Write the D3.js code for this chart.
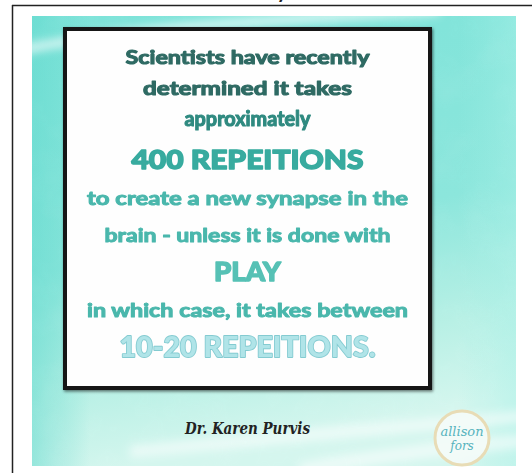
<!DOCTYPE html>
<html lang="en">
<head>
<meta charset="UTF-8">
<title>Repetitions</title>
<script src="https://d3js.org/d3.v7.min.js"></script>
<style>
  html, body { margin: 0; padding: 0; background: #fff; }
</style>
</head>
<body>
<svg width="532" height="473"></svg>
<script>
// ---- content ----
var lines = [
  "Scientists have recently",
  "determined it takes",
  "approximately",
  "400 REPEITIONS",
  "to create a new synapse in the",
  "brain - unless it is done with",
  "PLAY",
  "in which case, it takes between",
  "10-20 REPEITIONS."
];
var lineKinds = ["dark", "dark", "mid", "head", "body", "body", "play", "body", "outline"];
var attribution = "Dr. Karen Purvis";
var badgeWords = ["allison", "fors"];
var topFragment = "y";

// ---- layout ----
var baselines = [64, 95, 126, 169, 205, 242, 281, 317, 357];
var widths = [244, 209, 126, 232, 321, 286, 67, 321, 256];
var kindStyle = {
  dark:    { size: 19, fill: "#2e6a63", stroke: 1.1 },
  mid:     { size: 20.5, fill: "#2f8a80", stroke: 1.1 },
  head:    { size: 27, fill: "#37ab9f", stroke: 1.4 },
  body:    { size: 19, fill: "#4ab7ac", stroke: 1.0 },
  play:    { size: 27, fill: "#56c1b5", stroke: 1.4 },
  outline: { size: 29, fill: "#b0e4e8", stroke: 1.8 }
};

var svg = d3.select("svg");
var defs = svg.append("defs");

var bg = defs.append("linearGradient").attr("id", "bg")
  .attr("x1", 0).attr("y1", 0).attr("x2", 0.2).attr("y2", 1);
bg.append("stop").attr("offset", "0%").attr("stop-color", "#7de3d9");
bg.append("stop").attr("offset", "55%").attr("stop-color", "#8ce6dc");
bg.append("stop").attr("offset", "82%").attr("stop-color", "#b8f0e5");
bg.append("stop").attr("offset", "100%").attr("stop-color", "#d4f6ee");

var side = defs.append("linearGradient").attr("id", "side")
  .attr("x1", 0).attr("y1", 0).attr("x2", 1).attr("y2", 0);
side.append("stop").attr("offset", "0%").attr("stop-color", "#5ed8cc").attr("stop-opacity", 0.5);
side.append("stop").attr("offset", "12%").attr("stop-color", "#5ed8cc").attr("stop-opacity", 0);
side.append("stop").attr("offset", "88%").attr("stop-color", "#a3f0e6").attr("stop-opacity", 0);
side.append("stop").attr("offset", "100%").attr("stop-color", "#a8f1e8").attr("stop-opacity", 0.45);

var blur = defs.append("filter").attr("id", "blur")
  .attr("x", "-20%").attr("y", "-50%").attr("width", "140%").attr("height", "200%");
blur.append("feGaussianBlur").attr("stdDeviation", 5);

var tex = defs.append("filter").attr("id", "tex");
tex.append("feTurbulence").attr("type", "fractalNoise").attr("baseFrequency", 0.03)
  .attr("numOctaves", 3).attr("seed", 4);
tex.append("feColorMatrix").attr("type", "matrix")
  .attr("values", "0 0 0 0 1  0 0 0 0 1  0 0 0 0 1  0 0 0 0.3 -0.12");

var shadow = defs.append("filter").attr("id", "shadow")
  .attr("x", "-5%").attr("y", "-5%").attr("width", "110%").attr("height", "110%");
shadow.append("feDropShadow").attr("dx", 1).attr("dy", 1.5)
  .attr("stdDeviation", 1.5).attr("flood-color", "#000").attr("flood-opacity", 0.55);

var soft = defs.append("filter").attr("id", "soft");
soft.append("feGaussianBlur").attr("stdDeviation", 0.35);

var clip = defs.append("clipPath").attr("id", "imgclip");
clip.append("rect").attr("x", 32).attr("y", 16).attr("width", 484).attr("height", 450);

// outer frame lines
svg.append("line").attr("x1", 12).attr("x2", 532).attr("y1", 5.5).attr("y2", 5.5)
  .attr("stroke", "#222").attr("stroke-width", 1.5);
svg.append("line").attr("x1", 12.5).attr("x2", 12.5).attr("y1", 5).attr("y2", 473)
  .attr("stroke", "#222").attr("stroke-width", 1.5);

// fragment of a title cut off at the top (as in the reference)
svg.append("text").attr("x", 282).attr("y", -2).attr("text-anchor", "middle")
  .attr("font-family", "Lato").attr("font-weight", 700).attr("font-size", 20)
  .attr("fill", "#222").text(topFragment);

// watercolor background
var img = svg.append("g").attr("clip-path", "url(#imgclip)");
img.append("rect").attr("x", 32).attr("y", 16).attr("width", 484).attr("height", 450)
  .attr("fill", "url(#bg)");
img.append("rect").attr("x", 32).attr("y", 16).attr("width", 484).attr("height", 450)
  .attr("fill", "url(#side)");
img.append("path").attr("d", "M20,50 C120,30 230,22 440,10")
  .attr("fill", "none").attr("stroke", "#ffffff").attr("stroke-width", 9)
  .attr("stroke-opacity", 0.7).attr("filter", "url(#blur)");
img.append("path").attr("d", "M130,452 C250,440 380,428 530,416")
  .attr("fill", "none").attr("stroke", "#ffffff").attr("stroke-width", 12)
  .attr("stroke-opacity", 0.55).attr("filter", "url(#blur)");
img.append("path").attr("d", "M300,470 C380,455 450,448 530,440")
  .attr("fill", "none").attr("stroke", "#ffffff").attr("stroke-width", 14)
  .attr("stroke-opacity", 0.55).attr("filter", "url(#blur)");
img.append("rect").attr("x", 32).attr("y", 16).attr("width", 484).attr("height", 450)
  .attr("filter", "url(#tex)").attr("opacity", 0.35);

// white quote box
var box = { x: 65, y: 29, w: 365, h: 359 };
svg.append("rect").attr("x", box.x).attr("y", box.y).attr("width", box.w).attr("height", box.h)
  .attr("fill", "#fefefe").attr("stroke", "#141414").attr("stroke-width", 4)
  .attr("filter", "url(#shadow)");

var cx = box.x + box.w / 2;

// quote lines (stroke in the fill colour gives the heavy, rounded look)
var quote = svg.append("g").attr("font-family", "Lato").attr("font-weight", 700)
  .attr("text-anchor", "middle").attr("filter", "url(#soft)")
  .attr("stroke-linejoin", "round");

quote.selectAll("text.line").data(lines).join("text")
  .attr("class", "line")
  .attr("x", cx)
  .attr("y", function(d, i) { return baselines[i]; })
  .attr("font-size", function(d, i) { return kindStyle[lineKinds[i]].size; })
  .attr("font-weight", function(d, i) { return kindStyle[lineKinds[i]].size > 22 ? 900 : 700; })
  .attr("textLength", function(d, i) { return widths[i]; })
  .attr("lengthAdjust", "spacingAndGlyphs")
  .attr("fill", function(d, i) { return kindStyle[lineKinds[i]].fill; })
  .attr("stroke", function(d, i) {
    return lineKinds[i] === "outline" ? "#84cbd1" : kindStyle[lineKinds[i]].fill;
  })
  .attr("stroke-width", function(d, i) { return kindStyle[lineKinds[i]].stroke; })
  .attr("paint-order", "stroke")
  .text(function(d) { return d; });

// attribution
svg.append("text").attr("x", cx).attr("y", 434).attr("text-anchor", "middle")
  .attr("font-family", "DejaVu Serif").attr("font-style", "italic").attr("font-weight", 700)
  .attr("font-size", 17).attr("textLength", 125).attr("lengthAdjust", "spacingAndGlyphs")
  .attr("fill", "#222").text(attribution);

// badge
var badge = svg.append("g").attr("transform", "translate(462,438)");
badge.append("circle").attr("r", 27).attr("fill", "#f4fbf8").attr("fill-opacity", 0.9)
  .attr("stroke", "#e8dcb6").attr("stroke-width", 3);
badge.selectAll("text").data(badgeWords).join("text")
  .attr("x", 0)
  .attr("y", function(d, i) { return i === 0 ? -2 : 12; })
  .attr("text-anchor", "middle")
  .attr("font-family", "DejaVu Serif").attr("font-style", "italic")
  .attr("font-size", function(d, i) { return i === 0 ? 13 : 12; })
  .attr("fill", "#56b3bd")
  .text(function(d) { return d; });
</script>
</body>
</html>
